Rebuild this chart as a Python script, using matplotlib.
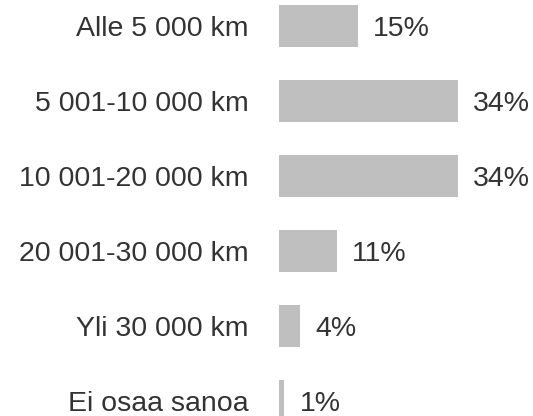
import matplotlib
matplotlib.use("Agg")
import matplotlib.pyplot as plt

categories = ["Alle 5 000 km", "5 001-10 000 km", "10 001-20 000 km",
              "20 001-30 000 km", "Yli 30 000 km", "Ei osaa sanoa"]
values = [15, 34, 34, 11, 4, 1]
value_labels = ["15%", "34%", "34%", "11%", "4%", "1%"]

plt.rcParams['font.family'] = ['Liberation Sans', 'DejaVu Sans']

W, H = 533, 416
fig = plt.figure(figsize=(W / 100, H / 100), dpi=100)
left = 279 / W
ax = fig.add_axes([left, 0, 1 - left, 1])

pos = list(range(len(categories)))
ax.barh(pos, values, height=0.57, color="#BFBFBF")

for p, v, lab in zip(pos, values, value_labels):
    ax.annotate(lab, (v, p), xytext=(11, 0), textcoords="offset points",
                va="center_baseline", ha="left", fontsize=20.5, color="#333333")

px_per_unit = 5.25
ax.set_xlim(0, (W - 279) / px_per_unit)
ax.set_ylim((H - 26) / 75, -26 / 75)

ax.set_yticks(pos)
ax.set_yticklabels(categories, fontsize=20.5, color="#333333")
ax.tick_params(axis="y", length=0, pad=22)
ax.set_xticks([])
for s in ax.spines.values():
    s.set_visible(False)

fig.savefig("out.png", dpi=100)
